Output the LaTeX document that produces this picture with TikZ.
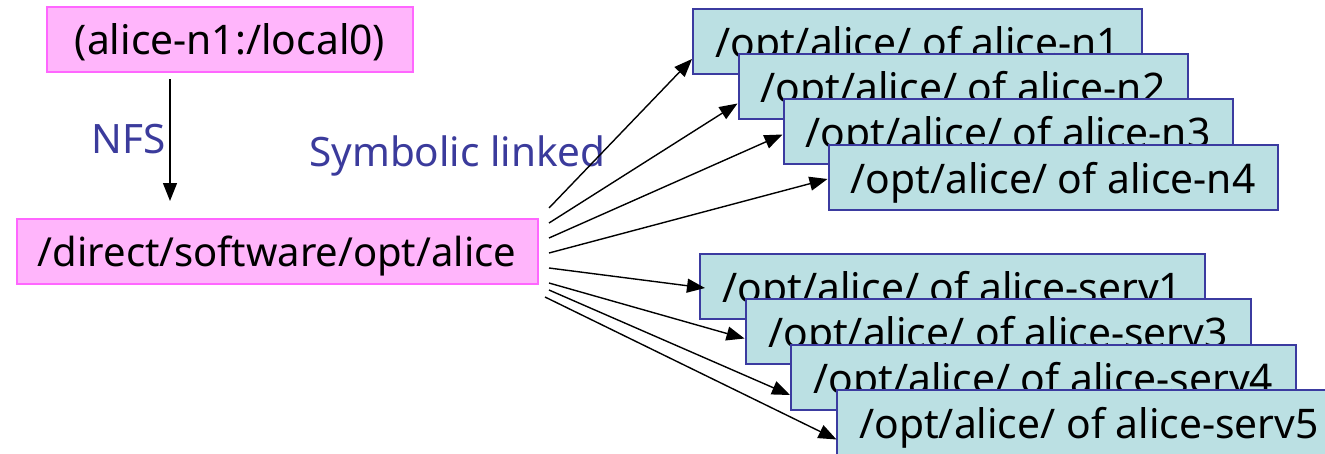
\documentclass[tikz,border=0pt]{standalone}
\usepackage{fontspec}
\setmainfont{Noto Sans}
\usetikzlibrary{arrows.meta,calc}
\definecolor{pinkfill}{HTML}{FFB5FB}
\definecolor{pinkline}{HTML}{FF66FF}
\definecolor{tealfill}{HTML}{BBE0E3}
\definecolor{tealline}{HTML}{3B3BA0}
\definecolor{labelblue}{HTML}{3B3B9C}
\tikzset{
  x=1pt,y=-1pt,
  boxbase/.style={rectangle,inner sep=0pt,text=black,font=\fontsize{40.8}{44}\selectfont,text depth=6pt,line width=2pt,anchor=north west},
  pinkbox/.style={boxbase,text height=37pt,draw=pinkline,fill=pinkfill},
  tealbox/.style={boxbase,text height=38pt,draw=tealline,fill=tealfill,minimum height=65pt},
  nbox/.style={tealbox,minimum width=449pt},
  sbox/.style={tealbox,minimum width=505pt},
  lbl/.style={text=labelblue,font=\fontsize{40.5}{44}\selectfont,inner sep=0pt,anchor=base},
  link/.style={line width=1.4pt,-{Triangle[length=18pt,width=14pt]}}
}
\begin{document}
\begin{tikzpicture}
\useasboundingbox (0,0) rectangle (1325,453);
\node[pinkbox,minimum width=366pt,minimum height=65pt] (top) at (46,5.5) {(alice-n1:/local0)};
\node[pinkbox,minimum width=521pt,minimum height=65pt,font=\fontsize{40}{44}\selectfont] (dir) at (15.5,217.5) {/direct/software/opt/alice};
\node[nbox] (n1) at (692,7.5) {/opt/alice/ of alice-n1};
\node[nbox] (n2) at (737.5,53) {/opt/alice/ of alice-n2};
\node[nbox] (n3) at (782.5,98) {/opt/alice/ of alice-n3};
\node[nbox] (n4) at (827.5,143.5) {/opt/alice/ of alice-n4};
\node[sbox] (s1) at (699,252.5) {/opt/alice/ of alice-serv1};
\node[sbox] (s3) at (744.5,298) {/opt/alice/ of alice-serv3};
\node[sbox] (s4) at (790,343.5) {/opt/alice/ of alice-serv4};
\node[sbox] (s5) at (835.5,389) {/opt/alice/ of alice-serv5};
\node[lbl] (nfs) at (129,153) {NFS};
\node[lbl] (sym) at (457.5,166) {Symbolic linked};
\coordinate (a0) at (170,79);
\coordinate (b0) at (170,201);
\coordinate (a1) at (549,208);
\coordinate (a2) at (549,223);
\coordinate (a3) at (549,238);
\coordinate (a4) at (549,253);
\coordinate (a5) at (549,268);
\coordinate (a6) at (549,283);
\coordinate (a7) at (549,290);
\coordinate (a8) at (545,297);
\draw[link] (a0) -- (b0);
\draw[link] (a1) -- ($(n1.west)+(0,18)$);
\draw[link] (a2) -- ($(n2.west)+(0,17)$);
\draw[link] (a3) -- ($(n3.west)+(0,3)$);
\draw[link] (a4) -- ($(n4.west)+(0,2)$);
\draw[link] (a5) -- ($(s1.west)+(6,2)$);
\draw[link] (a6) -- ($(s3.west)+(0,7)$);
\draw[link] (a7) -- ($(s4.west)+(0,18)$);
\draw[link] (a8) -- ($(s5.west)+(1,17)$);
\end{tikzpicture}
\end{document}
